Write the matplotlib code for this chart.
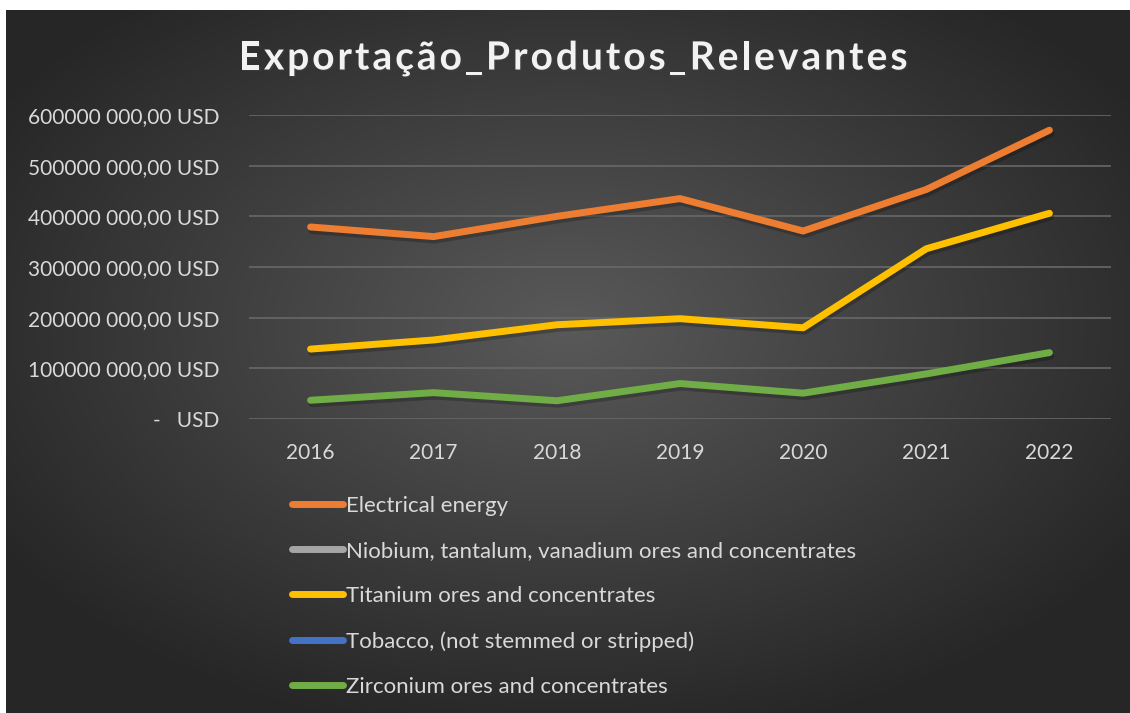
import numpy as np
import matplotlib
matplotlib.use("Agg")
import matplotlib.pyplot as plt
import matplotlib.patheffects as pe
from matplotlib.ticker import FuncFormatter

# data (USD)
years = ["2016", "2017", "2018", "2019", "2020", "2021", "2022"]
electrical_energy = [379e6, 360e6, 400e6, 435e6, 371e6, 453e6, 570e6]
niobium = [None] * 7          # no visible values in the reference
titanium = [138e6, 156e6, 186e6, 198e6, 180e6, 336e6, 406e6]
tobacco = [None] * 7          # no visible values in the reference
zirconium = [37e6, 52e6, 36e6, 70e6, 51e6, 89e6, 131e6]

series_names = ["Electrical energy",
                "Niobium, tantalum, vanadium ores and concentrates",
                "Titanium ores and concentrates",
                "Tobacco, (not stemmed or stripped)",
                "Zirconium ores and concentrates"]
series_values = [electrical_energy, niobium, titanium, tobacco, zirconium]
series_colors = ["#ED7D31", "#A5A5A5", "#FFC000", "#4472C4", "#70AD47"]

title = "Exportação_Produtos_Relevantes"

plt.rcParams['font.family'] = ['Lato', 'DejaVu Sans']

W, H = 1130, 713
fig = plt.figure(figsize=(W / 100, H / 100), dpi=100, facecolor="white")

# dark radial gradient background (white strip on top and left like the screenshot)
bg = fig.add_axes([6 / W, 0, 1 - 6 / W, 1 - 10 / H])
gx, gy = np.meshgrid(np.linspace(-1, 1, 400), np.linspace(-1, 1, 300))
r = np.sqrt(gx ** 2 + (gy + 0.1) ** 2)
r = np.clip(r / 1.2, 0, 1)
shade = 0.35 - 0.20 * r
img = np.dstack([shade, shade, shade])
bg.imshow(img, aspect="auto", extent=[0, 1, 0, 1], interpolation="bilinear")
bg.axis("off")

# plot area
x0, x1 = 249 / W, 1111 / W
y0, y1 = 1 - 419 / H, 1 - 115 / H
ax = fig.add_axes([x0, y0, x1 - x0, y1 - y0])
ax.patch.set_alpha(0)

xpos = np.arange(len(years))
handles = []
for name, vals, col in zip(series_names, series_values, series_colors):
    v = np.array([np.nan if a is None else a for a in vals], dtype=float)
    line, = ax.plot(xpos, v, color=col, lw=5, solid_capstyle="round",
                    solid_joinstyle="round", label=name, zorder=3,
                    path_effects=[pe.SimpleLineShadow(offset=(1, -2.5), shadow_color="black", alpha=0.22),
                                  pe.Normal()])
    handles.append(line)

ax.set_xlim(-0.5, len(years) - 0.5)
ax.set_ylim(0, 600e6)
ax.set_yticks(np.arange(0, 600e6 + 1, 100e6))
ax.set_xticks(xpos)
ax.set_xticklabels(years)


def usd(v, pos):
    if v == 0:
        return "-   USD"
    return f"{int(v / 1e6)}000 000,00 USD"


ax.yaxis.set_major_formatter(FuncFormatter(usd))
ax.grid(axis="y", color="#686868", lw=1.2, zorder=1)
ax.set_axisbelow(True)
for s in ax.spines.values():
    s.set_visible(False)
ax.tick_params(axis="both", length=0, colors="#D9D9D9", labelsize=15)
ax.tick_params(axis="y", pad=21)
ax.tick_params(axis="x", pad=17)

# title with letter spacing: place each character after the measured prefix
renderer = fig.canvas.get_renderer()
title_kw = dict(fontsize=28, fontweight="bold", color="#F2F2F2",
                path_effects=[pe.withSimplePatchShadow(offset=(1, -1), alpha=0.35)])
spacing = 3.0
widths = []
for i in range(len(title) + 1):
    t = fig.text(0, 0, title[:i] if i else "", **title_kw)
    widths.append(t.get_window_extent(renderer).width if i else 0.0)
    t.remove()
total = widths[-1] + spacing * (len(title) - 1)
start = 573 - total / 2
for i, ch in enumerate(title):
    fig.text((start + widths[i] + spacing * i) / W, 1 - 58 / H, ch,
             ha="left", va="center", **title_kw)

# legend
leg = fig.legend(handles=handles, loc="upper left", bbox_to_anchor=(283 / W, 1 - 487 / H),
                 frameon=False, fontsize=16, labelcolor="#D9D9D9", handlelength=2.3,
                 handletextpad=0.15, labelspacing=1.13, borderaxespad=0)
for h in leg.legend_handles:
    h.set_path_effects([pe.Normal()])

fig.savefig("out.png", dpi=100, facecolor=fig.get_facecolor())
